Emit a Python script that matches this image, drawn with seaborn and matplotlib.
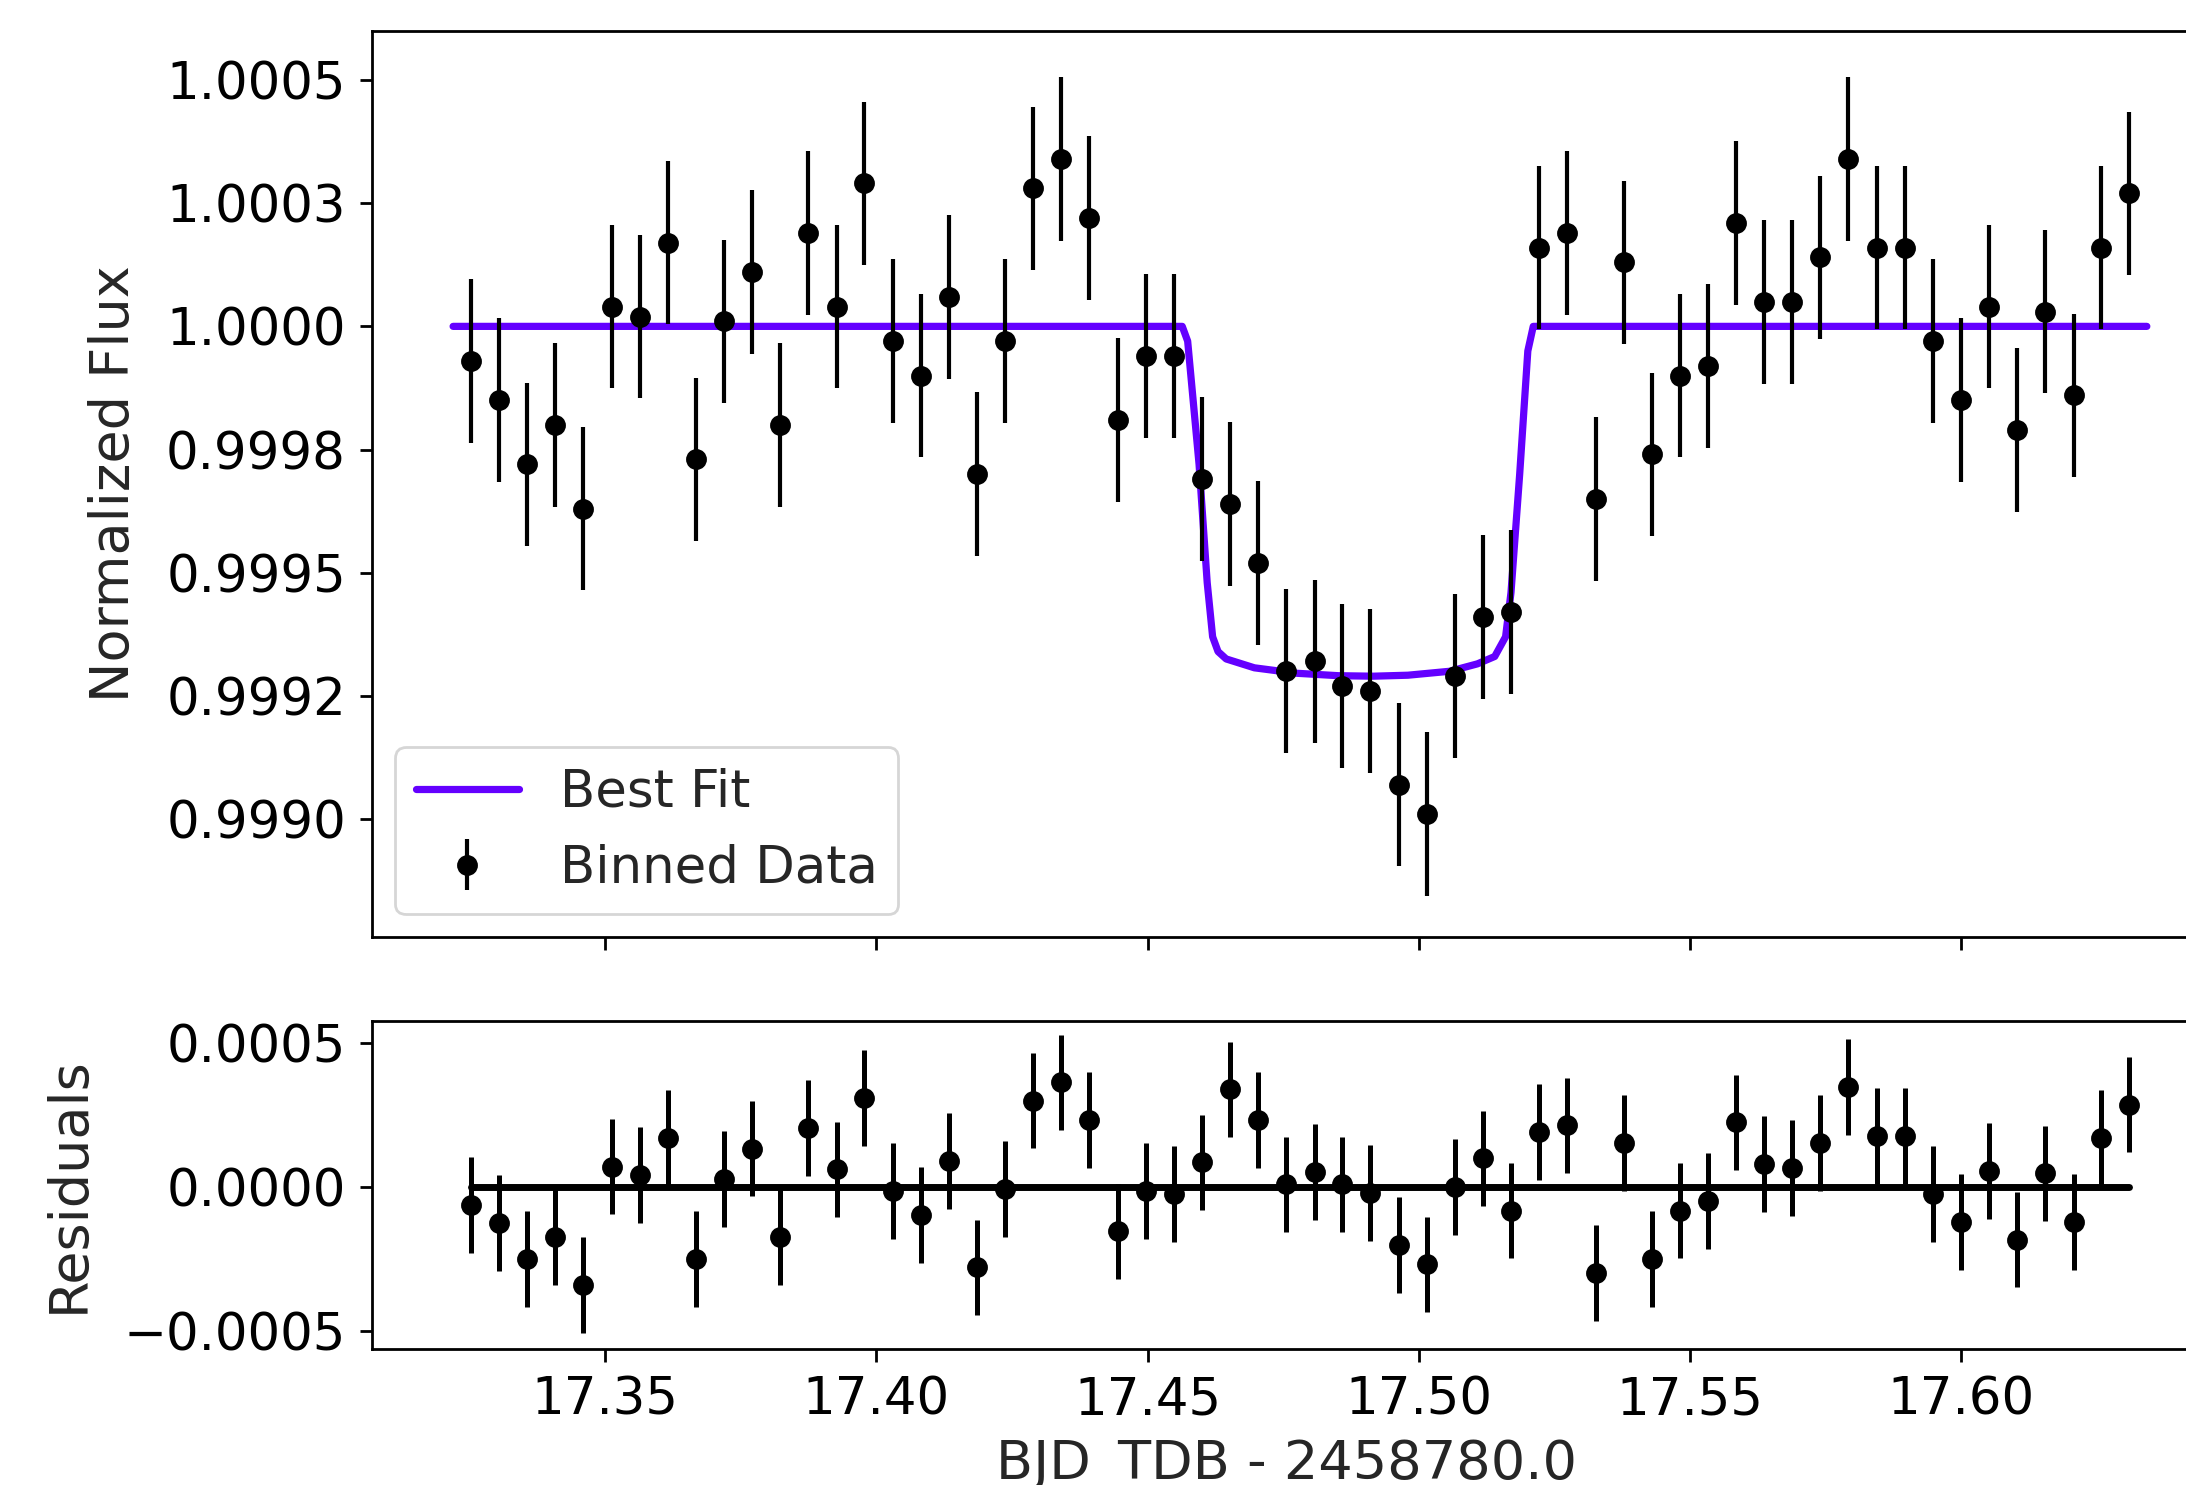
import numpy as np
import matplotlib
matplotlib.use("Agg")
import matplotlib.pyplot as plt
import seaborn as sns

# binned light curve
time = [17.3253, 17.3305, 17.3357, 17.3408, 17.3460, 17.3512, 17.3564, 17.3616, 17.3668, 17.3719,
        17.3771, 17.3823, 17.3875, 17.3927, 17.3978, 17.4030, 17.4082, 17.4134, 17.4186, 17.4238,
        17.4289, 17.4341, 17.4393, 17.4445, 17.4497, 17.4548, 17.4600, 17.4652, 17.4704, 17.4756,
        17.4808, 17.4859, 17.4911, 17.4963, 17.5015, 17.5067, 17.5118, 17.5170, 17.5222, 17.5274,
        17.5326, 17.5378, 17.5429, 17.5481, 17.5533, 17.5585, 17.5637, 17.5688, 17.5740, 17.5792,
        17.5844, 17.5896, 17.5948, 17.5999, 17.6051, 17.6103, 17.6155, 17.6207, 17.6258, 17.6310]

flux = [0.99993, 0.99985, 0.99972, 0.99980, 0.99963, 1.00004, 1.00002, 1.00017, 0.99973, 1.00001,
        1.00011, 0.99980, 1.00019, 1.00004, 1.00029, 0.99997, 0.99990, 1.00006, 0.99970, 0.99997,
        1.00028, 1.00034, 1.00022, 0.99981, 0.99994, 0.99994, 0.99969, 0.99964, 0.99952, 0.99930,
        0.99932, 0.99927, 0.99926, 0.99907, 0.99901, 0.99929, 0.99941, 0.99942, 1.00016, 1.00019,
        0.99965, 1.00013, 0.99974, 0.99990, 0.99992, 1.00021, 1.00005, 1.00005, 1.00014, 1.00034,
        1.00016, 1.00016, 0.99997, 0.99985, 1.00004, 0.99979, 1.00003, 0.99986, 1.00016, 1.00027]

resid = [-0.62, -1.24, -2.49, -1.72, -3.40, 0.72, 0.43, 1.72, -2.49, 0.29,
         1.34, -1.72, 2.06, 0.62, 3.11, -0.14, -0.96, 0.91, -2.78, -0.05,
         3.01, 3.64, 2.34, -1.53, -0.14, -0.24, 0.86, 3.40, 2.34, 0.10,
         0.53, 0.10, -0.19, -2.01, -2.68, 0.00, 1.00, -0.81, 1.91, 2.15,
         -2.97, 1.53, -2.49, -0.81, -0.48, 2.25, 0.81, 0.67, 1.53, 3.49,
         1.77, 1.77, -0.24, -1.20, 0.57, -1.82, 0.48, -1.20, 1.72, 2.87]
resid = [r * 1e-4 for r in resid]

flux_err = 0.000166

# best fit transit model
model_t = [17.3220, 17.4564, 17.4574, 17.4595, 17.4610, 17.4620, 17.4630, 17.4645, 17.4697,
           17.4774, 17.4852, 17.4916, 17.4980, 17.5057, 17.5108, 17.5140, 17.5160, 17.5170,
           17.5186, 17.5201, 17.5211, 17.6342]
model_f = [1.0, 1.0, 0.99997, 0.99972, 0.99948, 0.99937, 0.99934, 0.999325, 0.999307,
           0.999296, 0.999291, 0.999290, 0.999292, 0.999300, 0.999315, 0.99933, 0.99937, 0.99946,
           0.99970, 0.99995, 1.0, 1.0]

flux_ticks = [1.0005, 1.00025, 1.0, 0.99975, 0.9995, 0.99925, 0.999]
flux_labels = ['1.0005', '1.0003', '1.0000', '0.9998', '0.9995', '0.9992', '0.9990']
res_ticks = [0.0005, 0.0, -0.0005]
res_labels = ['0.0005', '0.0000', '\u22120.0005']
x_ticks = [17.35, 17.40, 17.45, 17.50, 17.55, 17.60]
x_labels = ['17.35', '17.40', '17.45', '17.50', '17.55', '17.60']

sns.set_style("ticks", {"axes.edgecolor": "black", "xtick.color": "black", "ytick.color": "black"})
plt.rcParams['font.family'] = ['DejaVu Sans']
plt.rcParams['font.size'] = 18

fig = plt.figure(figsize=(10.93, 7.425), dpi=200)
ax1 = fig.add_axes([0.1703, 0.3688, 0.8361, 0.6105])
ax2 = fig.add_axes([0.1703, 0.0915, 0.8361, 0.2209])

purple = '#6400ff'

sns.lineplot(x=model_t, y=model_f, ax=ax1, color=purple, lw=2.6, label='Best Fit',
             estimator=None, sort=False, zorder=2)
ax1.errorbar(time, flux, yerr=flux_err, fmt='o', color='black', ms=6.5, elinewidth=1.5,
             label='Binned Data', zorder=3)

sns.lineplot(x=[time[0], time[-1]], y=[0.0, 0.0], ax=ax2, color='black', lw=2.5,
             estimator=None, zorder=2)
ax2.errorbar(time, resid, yerr=flux_err, fmt='o', color='black', ms=6.5, elinewidth=1.8, zorder=3)

xlim = (17.3071, 17.644)
for ax in (ax1, ax2):
    ax.set_xlim(xlim)
    ax.set_xticks(x_ticks)
    ax.tick_params(axis='both', which='major', length=4.5, width=1.0, labelsize=18.5, pad=5)
    for s in ax.spines.values():
        s.set_linewidth(1.0)

ax1.set_ylim(0.99876, 1.0006)
ax1.set_yticks(flux_ticks)
ax1.set_yticklabels(flux_labels)
ax1.set_xticklabels([])
ax1.set_ylabel('Normalized Flux', fontsize=19.5, labelpad=9.5)

ax2.set_ylim(-0.000562, 0.000577)
ax2.set_yticks(res_ticks)
ax2.set_yticklabels(res_labels)
ax2.set_xticklabels(x_labels)
ax2.set_ylabel('Residuals', fontsize=19.5, labelpad=10.5)
ax2.set_xlabel('BJD_TDB - 2458780.0', fontsize=19.5, labelpad=5)

leg = ax1.legend(loc='lower left', fontsize=18.5, frameon=True, borderaxespad=0.45)
leg.get_frame().set_edgecolor('#cccccc')

fig.savefig('out.png', dpi=200)
